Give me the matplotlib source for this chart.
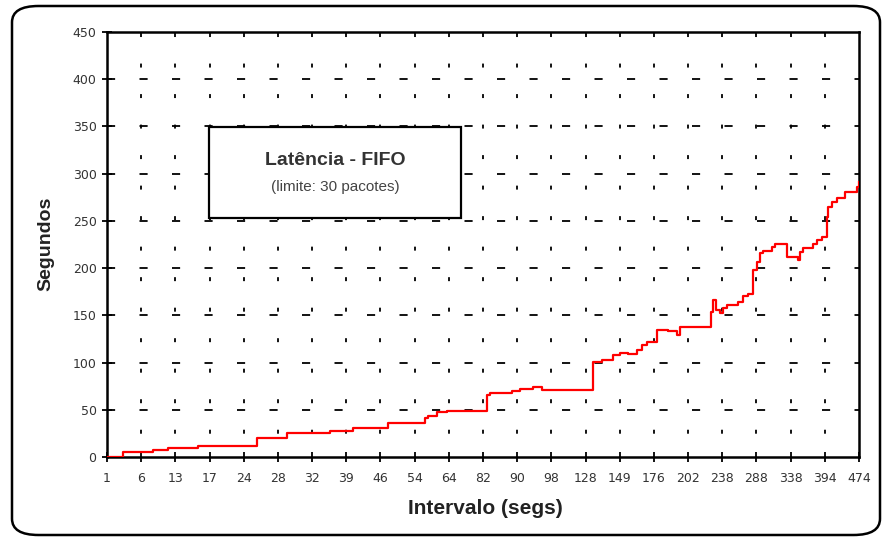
import matplotlib
matplotlib.use("Agg")
import matplotlib.pyplot as plt
from matplotlib.patches import FancyBboxPatch, Rectangle

# ---- data ----
x_labels = ["1", "6", "13", "17", "24", "28", "32", "39", "46", "54", "64", "82",
            "90", "98", "128", "149", "176", "202", "238", "288", "338", "394", "474"]
# position along the category axis (0 = first label) and latency in seconds
pos = [0.00, 0.47, 1.35, 1.78, 2.66, 4.39, 5.27, 6.52, 7.20, 8.22, 9.30, 9.39,
       9.65, 9.95, 11.12, 11.21, 11.85, 12.08, 12.46, 12.73, 14.22, 14.48, 14.80,
       15.01, 15.24, 15.51, 15.65, 15.80, 16.09, 16.41, 16.68, 16.76, 17.67, 17.73,
       17.82, 17.93, 18.02, 18.14, 18.46, 18.61, 18.75, 18.90, 19.02, 19.10, 19.19,
       19.46, 19.54, 19.89, 20.22, 20.27, 20.36, 20.66, 20.77, 20.92, 21.06, 21.09,
       21.21, 21.36, 21.59, 21.94, 22.00]
latency = [0, 5, 7, 9.5, 11.5, 20, 25, 27.5, 31, 36, 41, 43,
           47.5, 49, 66, 68, 70, 72, 74.5, 71, 101, 103, 108,
           110.5, 109, 113, 118.5, 122, 134.5, 133, 129, 138, 154, 166,
           155.5, 152, 158, 161, 164.5, 170, 173, 198, 207, 215.5, 218.5,
           222.5, 225.5, 212, 209, 217, 221, 225.5, 230, 233, 254, 265,
           270, 274, 281, 286, 291]
y_ticks = [0, 50, 100, 150, 200, 250, 300, 350, 400, 450]

title = "Latência - FIFO"
subtitle = "(limite: 30 pacotes)"

plt.rcParams['font.family'] = ['Liberation Sans', 'DejaVu Sans']

fig = plt.figure(figsize=(8.84, 5.41), dpi=100)
W, H = 884, 541

# rounded outer border
border = FancyBboxPatch((12 / W, 6 / H), (868 / W), (529 / H),
                        boxstyle="round,pad=0,rounding_size=0.03",
                        transform=fig.transFigure, fill=False,
                        edgecolor="black", linewidth=1.8)
fig.patches.append(border)

ax = fig.add_axes([107 / W, 1 - 457 / H, (859 - 107) / W, (457 - 32) / H])
ax.set_xlim(0, len(x_labels) - 1)
ax.set_ylim(0, 450)

# grid
for i in range(1, len(x_labels) - 1):
    ax.axvline(i, color="black", linewidth=1.3, linestyle=(4, (2.2, 14.7)), zorder=1)
for v in y_ticks[1:-1]:
    ax.axhline(v, color="black", linewidth=1.3, linestyle=(0, (4.5, 13.5)), zorder=1)

ax.plot(pos, latency, drawstyle="steps-post", color="#ff0000", linewidth=1.6, zorder=3)

ax.set_xticks(range(len(x_labels)))
ax.set_xticklabels(x_labels)
ax.set_yticks(y_ticks)
ax.tick_params(axis="both", direction="inout", length=7, width=1.3,
               labelsize=9, labelcolor="#333333", color="black")
ax.tick_params(axis="x", pad=7)
ax.tick_params(axis="y", pad=4)
for lbl in ax.get_xticklabels() + ax.get_yticklabels():
    lbl.set_family(['DejaVu Sans'])
for s in ax.spines.values():
    s.set_linewidth(1.8)
    s.set_color("black")

# label box
ax.add_patch(Rectangle((0.1356, 0.562), 0.335, 0.214, transform=ax.transAxes,
                       facecolor="white", edgecolor="black", linewidth=1.6, zorder=4))
ax.text(0.304, 0.698, title, transform=ax.transAxes, ha="center", va="center",
        fontsize=14, fontweight="bold", color="#333333", zorder=5)
ax.text(0.304, 0.636, subtitle, transform=ax.transAxes, ha="center", va="center",
        fontsize=11, color="#444444", zorder=5)

fig.text(46 / W, 1 - 244 / H, "Segundos", rotation=90, ha="center", va="center",
         fontsize=14, fontweight="bold", color="#222222")
fig.text(485 / W, 1 - 508 / H, "Intervalo (segs)", ha="center", va="center",
         fontsize=15, fontweight="bold", color="#222222")

fig.savefig("out.png", dpi=100)
